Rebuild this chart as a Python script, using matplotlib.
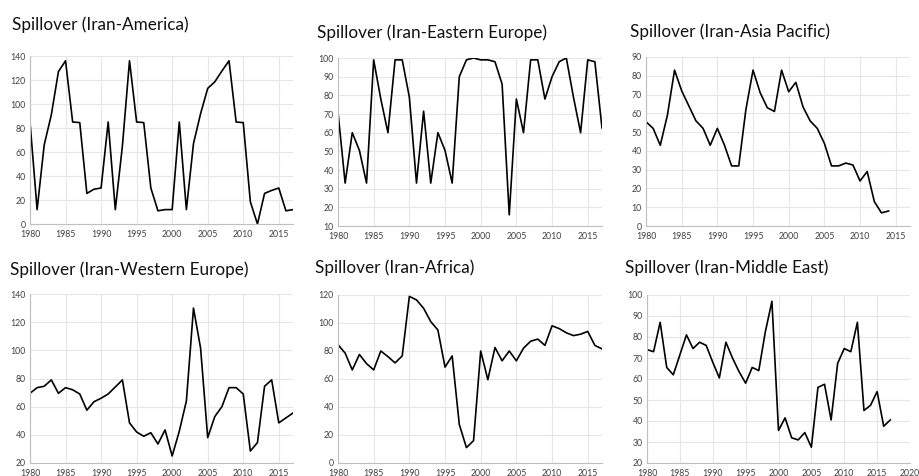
import matplotlib
matplotlib.use("Agg")
import matplotlib.pyplot as plt
import numpy as np

plt.rcParams['font.family'] = ['Lato', 'DejaVu Sans']

years = list(range(1980, 2018))

america = [85, 12, 66, 91, 127, 136, 85, 84.5, 25.5, 29, 30, 85, 12, 65, 136,
           85, 84.5, 30, 11, 12, 12, 85, 12, 67, 92, 113, 118.5, 127.5, 136,
           85, 84.5, 18.5, 0, 25.5, 28, 30, 11, 12]
eastern_europe = [71, 33, 60, 50.5, 33, 99, 78, 60, 99, 99, 79, 33, 71.5, 33, 60,
                  50.5, 33, 90, 99, 100, 99, 99, 98, 86, 16, 78, 60, 99, 99, 78,
                  90, 98, 100, 79, 60, 99, 98, 62.5]
asia_pacific = [55.5, 52, 43, 59, 83, 72, 64, 56, 52, 43, 52, 43, 32, 32, 62,
                83, 71, 63, 61, 83, 71.5, 76.5, 63.5, 56, 52, 44, 32, 32, 33.5,
                32.5, 24, 29, 13, 7, 8]
western_europe = [69.5, 73.5, 74.5, 79, 69.5, 73.5, 72, 69, 57.5, 63.5, 66, 69, 74,
                  79, 48.5, 42, 39, 41.5, 33.5, 43.5, 25, 42.5, 64, 130, 101.5,
                  38, 53, 60, 73.5, 73.5, 69, 28.5, 34.5, 74.5, 79, 48.5, 52, 55.5]
africa = [84.5, 78.5, 66.5, 77.5, 71, 66.5, 80, 76, 71.5, 76.5, 119, 116.5, 110.5,
          101, 95, 68.5, 76.5, 27.5, 11, 16, 80, 59.5, 82.5, 73, 80, 73, 82, 87,
          88.5, 84, 98, 96, 93, 91, 92, 94, 84, 81.5]
middle_east = [74, 73, 87, 65.5, 62, 71.5, 81, 74.5, 77.5, 76, 68, 60.5, 77.5, 70,
               63.5, 58, 65.5, 64, 82.5, 97, 35.5, 41.5, 32, 31, 34.5, 27.5, 56,
               57.5, 40.5, 67.5, 74.5, 73, 87, 45, 47.5, 54, 37.5, 40.5]

titles = ['Spillover (Iran-America)', 'Spillover (Iran-Eastern Europe)',
          'Spillover (Iran-Asia Pacific)', 'Spillover (Iran-Western Europe)',
          'Spillover (Iran-Africa)', 'Spillover (Iran-Middle East)']
series = [america, eastern_europe, asia_pacific, western_europe, africa, middle_east]
yticks = [range(0, 141, 20), range(10, 101, 10), range(0, 91, 10),
          range(20, 141, 20), range(0, 121, 20), range(20, 101, 10)]
xticks = [range(1980, 2016, 5)] * 5 + [range(1980, 2021, 5)]
xmax = [2017, 2017, 2017, 2017, 2017, 2020]

# axes boxes in pixels: left, right, top, bottom
boxes = [(30, 293, 56, 224), (338, 602, 58, 226), (646, 910, 57, 226),
         (30, 293, 294, 463), (338, 602, 295, 463), (647, 910, 295, 463)]
title_pos = [(12, 25), (317, 33), (630, 32), (10, 270), (315, 268), (625, 268)]

W, H = 919, 476
fig = plt.figure(figsize=(W / 100, H / 100), dpi=100)

for i in range(6):
    l, r, t, b = boxes[i]
    ax = fig.add_axes([l / W, 1 - b / H, (r - l) / W, (b - t) / H])
    vals = series[i]
    ax.plot(years[:len(vals)], vals, color='black', linewidth=1.2)
    ax.set_xlim(1980, xmax[i])
    yt = list(yticks[i])
    ax.set_ylim(yt[0], yt[-1])
    ax.set_yticks(yt)
    ax.set_xticks(list(xticks[i]))
    ax.grid(True, color='#e6e6e6', linewidth=0.8)
    ax.set_axisbelow(True)
    for s in ['top', 'right']:
        ax.spines[s].set_visible(False)
    for s in ['left', 'bottom']:
        ax.spines[s].set_color('#bfbfbf')
        ax.spines[s].set_linewidth(0.8)
    ax.tick_params(length=0, labelsize=6.3, colors='#404040')
    ax.tick_params(axis='x', pad=4)
    ax.tick_params(axis='y', pad=3)
    tx, ty = title_pos[i]
    fig.text(tx / W, 1 - ty / H, titles[i], fontsize=12.3, color='#111111',
             ha='left', va='center')

fig.savefig('out.png', dpi=100)
